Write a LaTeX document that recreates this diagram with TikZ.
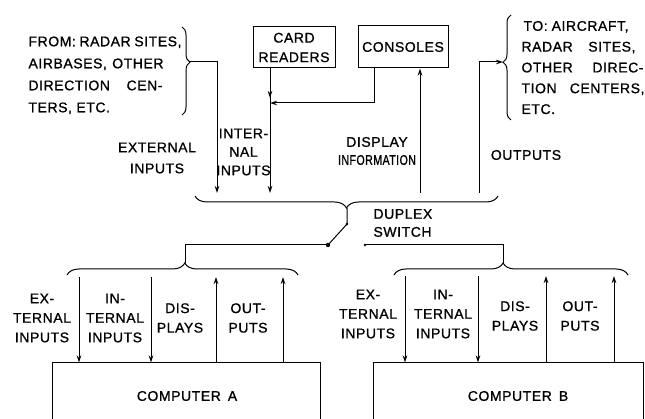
\documentclass[tikz,border=0pt]{standalone}
\usepackage{fontspec}
\setmainfont{Liberation Sans}[LetterSpace=4, RawFeature={embolden=0.9}]
\usetikzlibrary{arrows.meta,decorations.pathreplacing,calc}
\begin{document}
\begin{tikzpicture}[x=1pt,y=-1pt, line width=1pt,
  lbl/.style={font=\fontsize{14}{19.5}\selectfont, align=center, inner sep=0pt},
  box/.style={draw, inner sep=0pt},
  arr/.style={-{Stealth[length=7pt,width=4.5pt]}},
  brc/.style={decorate, decoration={brace, amplitude=#1}},
  brc/.default=12pt,
]
\useasboundingbox (0,0) rectangle (645,419);
\fill[white] (0,0) rectangle (645,419);

% ---------- boxes ----------
\node[box, lbl, minimum width=82pt, minimum height=41pt] (card) at (294,47.5) {CARD\\READERS};
\node[box, lbl, minimum width=90pt, minimum height=42pt] (cons) at (403,47) {CONSOLES};
\node[box, minimum width=268pt, minimum height=60pt] (compA) at (186,393) {};
\node[lbl] (compAt) at (187,396) {COMPUTER\hspace{0.5em}A};
\node[box, minimum width=270pt, minimum height=60pt] (compB) at (508,393) {};
\node[lbl] (compBt) at (518,396) {COMPUTER\hspace{0.5em}B};

% ---------- texts ----------
\node[lbl, align=left, anchor=north west, font=\fontsize{14}{22}\selectfont] (from) at (28,36)
  {\makebox[153pt][s]{FROM: RADAR SITES,}\\\makebox[135pt][s]{AIRBASES, OTHER}\\\makebox[134pt][s]{DIRECTION CEN-}\\TERS, ETC.};
\node[lbl, align=left, anchor=north west, font=\fontsize{14}{20.8}\selectfont] (to) at (521,20.5)
  {\hspace*{2pt}\makebox[105pt][s]{TO: AIRCRAFT,}\\\makebox[114pt][s]{RADAR SITES,}\\\makebox[122pt][s]{OTHER DIREC-}\\\makebox[123pt][s]{TION CENTERS,}\\ETC.};
\node[lbl, font=\fontsize{14}{21}\selectfont] (extl) at (157,158) {EXTERNAL\\INPUTS};
\node[lbl, font=\fontsize{14}{18.5}\selectfont] (intl) at (243.5,152) {INTER-\\NAL\\INPUTS};
\node[lbl, font=\fontsize{14}{18}\selectfont] (displ) at (377,151) {DISPLAY\\\scalebox{0.76}[1]{INFORMATION}};
\node[lbl] (outl) at (526,155) {OUTPUTS};
\node[lbl, align=left, anchor=west, font=\fontsize{14}{18}\selectfont] (dup) at (373,223) {DUPLEX\\SWITCH};

\node[lbl] (aext) at (42,318) {EX-\\TERNAL\\INPUTS};
\node[lbl] (aint) at (115,318) {IN-\\TERNAL\\INPUTS};
\node[lbl] (adis) at (180,318) {DIS-\\PLAYS};
\node[lbl] (aout) at (248,318) {OUT-\\PUTS};
\node[lbl] (bext) at (368,314) {EX-\\TERNAL\\INPUTS};
\node[lbl] (bint) at (443,314) {IN-\\TERNAL\\INPUTS};
\node[lbl] (bdis) at (515,316) {DIS-\\PLAYS};
\node[lbl] (bout) at (580,316) {OUT-\\PUTS};

% ---------- braces ----------
\draw[brc=8pt, decoration={aspect=0.4}] (182,27) -- (182,115);
\coordinate (fromtip) at (190,62);
\draw[brc=8pt, decoration={aspect=0.55}] (511,120) -- (511,15);
\coordinate (totip) at (503,62);
\draw[brc, decoration={aspect=0.5}] (498,196) -- (195,196);
\coordinate (toptip) at (347,208);
\draw[brc, decoration={aspect=0.51}] (67,275) -- (298,275);
\coordinate (atip) at (185,263);
\draw[brc, decoration={aspect=0.466}] (394,275) -- (628,275);
\coordinate (btip) at (503,263);

% ---------- top connectors ----------
\coordinate (extend) at (217,193);
\draw[arr] (fromtip) -| (extend);
\coordinate (junc) at (270,103);
\draw[arr] (card.south -| junc) -- ($(junc)+(0,-5)$);
\draw (card.south -| junc) -- (junc);
\coordinate (intend) at (270,193);
\draw[arr] (junc) -- (intend);
\draw[arr] (cons.south -| 374,0) |- (junc);
\coordinate (dispstart) at (420,193);
\draw[arr] (dispstart) -- (dispstart |- cons.south);
\coordinate (outstart) at (479,193);
\draw[arr] (outstart) |- (totip);

% ---------- duplex switch ----------
\coordinate (pivot) at (347,224);
\coordinate (bladeend) at (328,245);
\coordinate (contB) at (365,245);
\draw (toptip) -- (pivot) -- (bladeend);
\fill (pivot) circle (1.3pt);
\fill (bladeend) circle (2.2pt);
\fill (contB) circle (1.4pt);
\draw (bladeend) -- (bladeend -| atip) -- (atip);
\draw (contB) -- (contB -| btip) -- (btip);

% ---------- computer arrows ----------
\foreach \x/\n in {79/a1,151/a2}
  {\coordinate (\n) at (\x,277); \draw[arr] (\n) -- (\n |- compA.north);}
\foreach \x/\n in {216/a3,283/a4}
  {\coordinate (\n) at (\x,277); \draw[arr] (\n |- compA.north) -- (\n);}
\foreach \x/\n in {405/b1,478/b2}
  {\coordinate (\n) at (\x,276); \draw[arr] (\n) -- (\n |- compB.north);}
\foreach \x/\n in {546/b3,614/b4}
  {\coordinate (\n) at (\x,276); \draw[arr] (\n |- compB.north) -- (\n);}
\end{tikzpicture}
\end{document}
